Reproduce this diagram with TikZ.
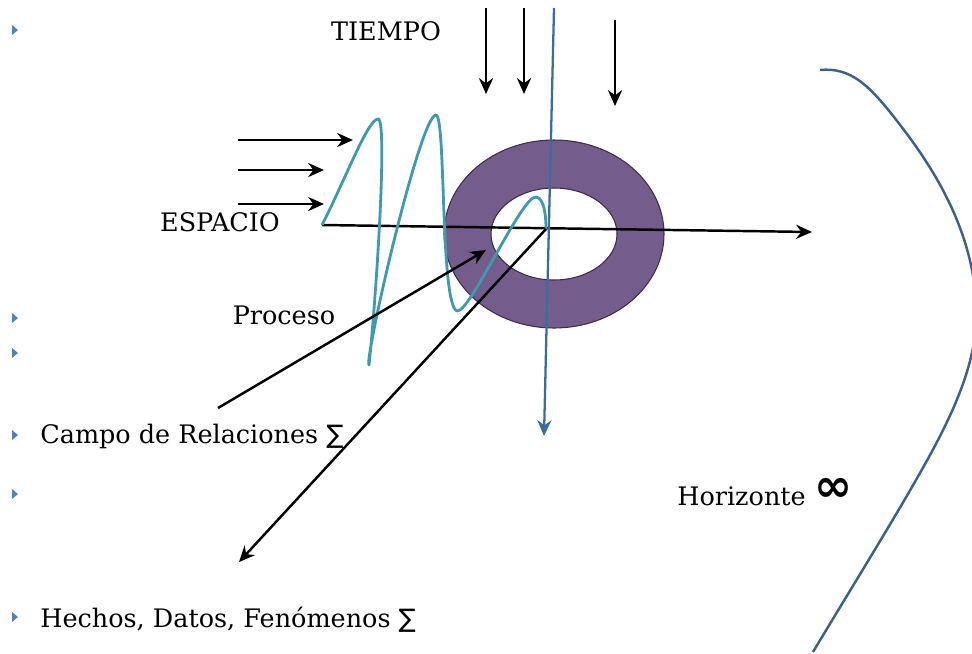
\documentclass[tikz,border=0pt]{standalone}
\usepackage{fontspec}
\setmainfont{DejaVu Serif}
\newfontfamily\symfont{DejaVu Sans}
\usetikzlibrary{arrows.meta}
\definecolor{bulletblue}{HTML}{4F81BD}
\definecolor{ringfill}{HTML}{745C8C}
\definecolor{ringline}{HTML}{3A2E48}
\definecolor{wavecol}{HTML}{3E9AAE}
\definecolor{axisblue}{HTML}{3B6C9E}
\definecolor{horizcol}{HTML}{3C6189}
\tikzset{
  lbl/.style={font=\fontsize{14.5}{16}\selectfont, inner sep=0pt},
  blk/.style={draw=black, line width=1.4pt, -{Stealth[length=9pt,width=8pt]}},
  bluearrow/.style={draw=axisblue, line width=1.3pt, -{Stealth[length=9pt,width=8pt]}},
  wave/.style={draw=wavecol, line width=1.6pt, line join=round},
  horiz/.style={draw=horizcol, line width=1.4pt},
  bul/.style={fill=bulletblue, draw=none}
}
\begin{document}
\begin{tikzpicture}[x=0.02cm,y=-0.02cm]
\useasboundingbox (0,0) rectangle (972,653);
% bullets
\foreach \yy in {30,318,353,435,494,617}{
  \fill[bul] (12,\yy-5) -- (18,\yy) -- (12,\yy+5) -- cycle;
}
% ring
\fill[ringfill, even odd rule] (554,234) ellipse (110 and 94) (554,234) ellipse (63 and 46);
\draw[ringline, line width=0.6pt] (554,234) ellipse (110 and 94);
\draw[ringline, line width=0.6pt] (554,234) ellipse (63 and 46);
% coordinates
\coordinate (o) at (546,229);
\coordinate (s) at (322,225);
\coordinate (xe) at (812,232);
\coordinate (t1s) at (486,8);  \coordinate (t1e) at (486,94);
\coordinate (t2s) at (524,8);  \coordinate (t2e) at (524,94);
\coordinate (t3s) at (615,20); \coordinate (t3e) at (615,106);
\coordinate (e1s) at (238,140); \coordinate (e1e) at (353,140);
\coordinate (e2s) at (238,170); \coordinate (e2e) at (324,170);
\coordinate (e3s) at (238,204); \coordinate (e3e) at (324,204);
\coordinate (vs) at (554,8); \coordinate (ve) at (544,436);
\coordinate (ps) at (218,408); \coordinate (pe) at (486,250);
\coordinate (de) at (239,562);
\coordinate (h0) at (820,70);
\coordinate (h1) at (813,652);
% horizontal axis
\draw[blk] (s) -- (xe);
% wave
\draw[wave] (s) .. controls (345,180) and (368,119) .. (378,119)
  .. controls (388,118) and (376,300) .. (369,365)
  .. controls (364,360) and (420,115) .. (436,115)
  .. controls (446,115) and (440,305) .. (457,311)
  .. controls (470,313) and (522,195) .. (536,197)
  .. controls (544,198) and (546,215) .. (o);
% time arrows
\draw[blk] (t1s) -- (t1e);
\draw[blk] (t2s) -- (t2e);
\draw[blk] (t3s) -- (t3e);
% space arrows
\draw[blk] (e1s) -- (e1e);
\draw[blk] (e2s) -- (e2e);
\draw[blk] (e3s) -- (e3e);
% diagonal arrows
\draw[blk] (ps) -- (pe);
\draw[blk] (o) -- (de);
% vertical blue axis
\draw[bluearrow] (vs) -- (ve);
% horizon curve
\draw[horiz] (h0) .. controls (850,67) and (868,85) .. (890,112)
  .. controls (920,150) and (970,215) .. (976,300)
  .. controls (980,350) and (960,400) .. (930,455)
  .. controls (900,510) and (850,590) .. (h1);
% labels
\node[lbl] (tiempo) at (386,31) {TIEMPO};
\node[lbl] (espacio) at (220,222) {ESPACIO};
\node[lbl] (proceso) at (284,315) {Proceso};
\node[lbl, anchor=west] (campo) at (40,436) {Campo de Relaciones {\symfont∑}};
\node[lbl, anchor=base west] (horiz) at (677,505) {Horizonte\hspace{5pt}\raisebox{0.3ex}{\fontsize{26}{26}\selectfont{\symfont\bfseries ∞}}};
\node[lbl, anchor=west] (hechos) at (40,620) {Hechos, Datos, Fenómenos {\symfont∑}};
\end{tikzpicture}
\end{document}
